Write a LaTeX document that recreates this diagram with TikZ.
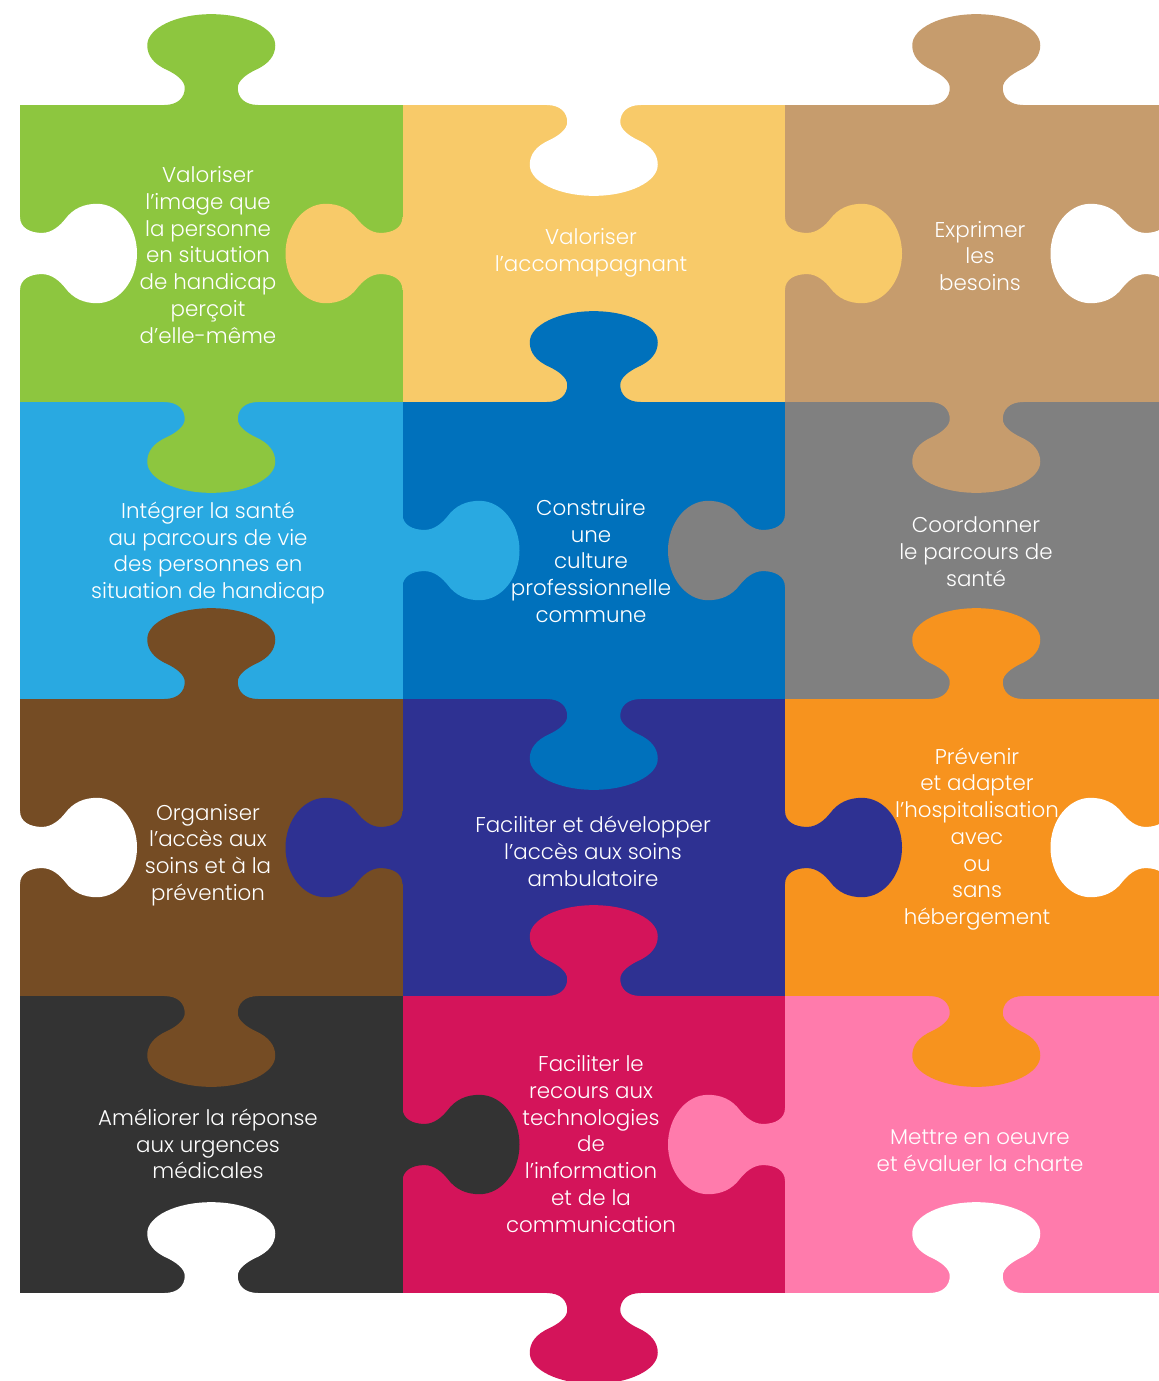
\documentclass[tikz,border=0pt]{standalone}
\usepackage{fontspec}
\setmainfont{Poppins}[UprightFont={* Light}]
\definecolor{cgreen}{HTML}{8DC63F}
\definecolor{cyellow}{HTML}{F8CA69}
\definecolor{ctan}{HTML}{C69C6D}
\definecolor{clightblue}{HTML}{29A9E1}
\definecolor{cblue}{HTML}{0071BC}
\definecolor{cgrey}{HTML}{808080}
\definecolor{cbrown}{HTML}{754C24}
\definecolor{cnavy}{HTML}{2E3192}
\definecolor{corange}{HTML}{F7931E}
\definecolor{cdark}{HTML}{333333}
\definecolor{ccrimson}{HTML}{D4145A}
\definecolor{cpink}{HTML}{FF7BAC}
\begin{document}
\begin{tikzpicture}[x=.5pt, y=.5pt,
  pics/knob/.style={code={
    \fill[#1] (-47,-3) -- (-47,0) .. controls (-33,0) and (-26.5,10) .. (-26.5,22)
      .. controls (-26.5,32) and (-36,40) .. (-44,45)
      .. controls (-58,53) and (-64,64) .. (-64,77)
      .. controls (-64,99) and (-35,117) .. (0,117)
      .. controls (35,117) and (64,99) .. (64,77)
      .. controls (64,64) and (58,53) .. (44,45)
      .. controls (36,40) and (26.5,32) .. (26.5,22)
      .. controls (26.5,10) and (33,0) .. (47,0) -- (47,-3) -- cycle;}},
  lbl/.style={text=white, align=center, font=\fontsize{10.7}{13.35}\selectfont}]
\useasboundingbox (0,0) rectangle (1159,-1381);
\clip (0,0) rectangle (1159,-1381);
\begin{scope}[xshift=10pt, yshift=-52.5pt, yscale=.776471, transform shape]
\fill[cgreen] (0,0) rectangle (382.5,-382.5);
\fill[cyellow] (382.5,0) rectangle (765,-382.5);
\fill[ctan] (765,0) rectangle (1147.5,-382.5);
\fill[clightblue] (0,-382.5) rectangle (382.5,-765);
\fill[cblue] (382.5,-382.5) rectangle (765,-765);
\fill[cgrey] (765,-382.5) rectangle (1147.5,-765);
\fill[cbrown] (0,-765) rectangle (382.5,-1147.5);
\fill[cnavy] (382.5,-765) rectangle (765,-1147.5);
\fill[corange] (765,-765) rectangle (1147.5,-1147.5);
\fill[cdark] (0,-1147.5) rectangle (382.5,-1530);
\fill[ccrimson] (382.5,-1147.5) rectangle (765,-1530);
\fill[cpink] (765,-1147.5) rectangle (1147.5,-1530);
\pic at (191.25,0) {knob=cgreen};
\pic[rotate=180] at (573.75,0) {knob=white};
\pic at (956.25,0) {knob=ctan};
\pic[rotate=180] at (191.25,-382.5) {knob=cgreen};
\pic at (573.75,-382.5) {knob=cblue};
\pic[rotate=180] at (956.25,-382.5) {knob=ctan};
\pic at (191.25,-765) {knob=cbrown};
\pic[rotate=180] at (573.75,-765) {knob=cblue};
\pic at (956.25,-765) {knob=corange};
\pic[rotate=180] at (191.25,-1147.5) {knob=cbrown};
\pic at (573.75,-1147.5) {knob=ccrimson};
\pic[rotate=180] at (956.25,-1147.5) {knob=corange};
\pic at (191.25,-1530) {knob=white};
\pic[rotate=180] at (573.75,-1530) {knob=ccrimson};
\pic at (956.25,-1530) {knob=white};
\pic[rotate=-90] at (0,-191.25) {knob=white};
\pic[rotate=-90] at (0,-956.25) {knob=white};
\pic[rotate=90] at (382.5,-191.25) {knob=cyellow};
\pic[rotate=-90] at (382.5,-573.75) {knob=clightblue};
\pic[rotate=90] at (382.5,-956.25) {knob=cnavy};
\pic[rotate=-90] at (382.5,-1338.75) {knob=cdark};
\pic[rotate=-90] at (765,-191.25) {knob=cyellow};
\pic[rotate=90] at (765,-573.75) {knob=cgrey};
\pic[rotate=-90] at (765,-956.25) {knob=cnavy};
\pic[rotate=90] at (765,-1338.75) {knob=cpink};
\pic[rotate=90] at (1147.5,-191.25) {knob=white};
\pic[rotate=90] at (1147.5,-956.25) {knob=white};
\end{scope}
\node[lbl] (valimage) at (208,-255) {Valoriser\\l’image que\\la personne\\en situation\\de handicap\\perçoit\\d’elle-même};
\node[lbl] (valaccomp) at (591,-252.5) {Valoriser\\l’accomapagnant};
\node[lbl] (besoins) at (980,-256) {Exprimer\\les\\besoins};
\node[lbl] (integrer) at (208,-553) {Intégrer la santé\\au parcours de vie\\des personnes en\\situation de handicap};
\node[lbl] (culture) at (591,-561) {Construire\\une\\culture\\professionnelle\\commune};
\node[lbl] (coordonner) at (976,-551.5) {Coordonner\\le parcours de\\santé};
\node[lbl] (organiser) at (208,-855) {Organiser\\l’accès aux\\soins et à la\\prévention};
\node[lbl] (ambulatoire) at (593,-851.5) {Faciliter et développer\\l’accès aux soins\\ambulatoire};
\node[lbl] (hospitalisation) at (977,-839) {Prévenir\\et adapter\\l’hospitalisation\\avec\\ou\\sans\\hébergement};
\node[lbl] (urgences) at (208,-1144) {Améliorer la réponse\\aux urgences\\médicales};
\node[lbl] (technologies) at (591,-1144) {Faciliter le\\recours aux\\technologies\\de\\l’information\\et de la\\communication};
\node[lbl] (charte) at (980,-1150.5) {Mettre en oeuvre\\et évaluer la charte};
\end{tikzpicture}
\end{document}
